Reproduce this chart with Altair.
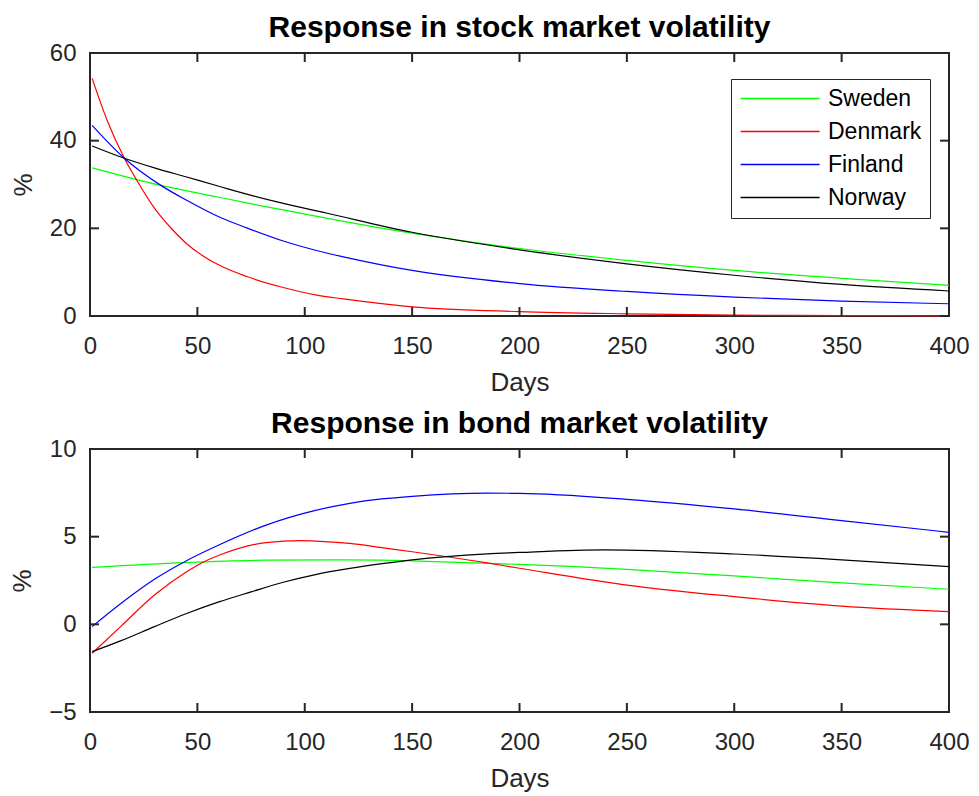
import altair as alt
import pandas as pd

COUNTRIES = ["Sweden", "Denmark", "Finland", "Norway"]
COLORS = ["#00ff00", "#ff0000", "#0000ff", "#000000"]

# ---- Stock market volatility response (%) ----
stock_sweden_days = [1, 33, 59, 73, 90, 118, 150, 200, 250, 300, 350, 400]
stock_sweden_vals = [33.8, 29.8, 27.2, 25.8, 24.2, 21.6, 18.9, 15.4, 12.7, 10.4, 8.6, 7.0]

stock_denmark_days = [1, 8, 16, 22, 30, 38, 45, 53, 61, 73, 90, 105, 118, 150, 200, 250, 300, 350, 400]
stock_denmark_vals = [54.2, 44.6, 36.0, 30.8, 24.6, 19.9, 16.5, 13.6, 11.4, 9.0, 6.5, 4.8, 3.9, 2.1, 1.0, 0.5, 0.2, 0.1, 0.05]

stock_finland_days = [1, 16, 33, 45, 61, 73, 90, 105, 118, 150, 200, 250, 300, 350, 400]
stock_finland_vals = [43.5, 36.0, 29.8, 26.4, 22.4, 20.1, 17.1, 15.0, 13.5, 10.4, 7.4, 5.6, 4.3, 3.4, 2.8]

stock_norway_days = [1, 16, 30, 45, 60, 73, 90, 110, 150, 200, 250, 300, 350, 400]
stock_norway_vals = [38.8, 36.0, 33.8, 31.7, 29.6, 27.8, 25.7, 23.5, 19.1, 15.1, 11.9, 9.3, 7.2, 5.7]

# ---- Bond market volatility response (%) ----
bond_sweden_days = [1, 44, 82, 115, 136, 150, 185, 200, 250, 300, 350, 400]
bond_sweden_vals = [3.25, 3.52, 3.66, 3.68, 3.66, 3.62, 3.48, 3.42, 3.14, 2.76, 2.36, 2.0]

bond_denmark_days = [1, 14.5, 30, 45, 52, 61, 82, 98, 105, 121, 136, 150, 185, 200, 250, 300, 350, 400]
bond_denmark_vals = [-1.65, -0.1, 1.67, 3.0, 3.5, 3.98, 4.66, 4.77, 4.75, 4.62, 4.37, 4.14, 3.5, 3.2, 2.24, 1.58, 1.04, 0.72]

bond_finland_days = [1, 14.5, 30, 44.5, 61, 82, 105, 121, 136, 150, 185, 200, 250, 300, 350, 400]
bond_finland_vals = [-0.13, 1.2, 2.57, 3.6, 4.58, 5.66, 6.5, 6.9, 7.15, 7.3, 7.48, 7.47, 7.13, 6.58, 5.91, 5.25]

bond_norway_days = [1, 14.5, 30, 45, 60, 75, 90, 105, 121, 136, 150, 185, 200, 240, 300, 350, 400]
bond_norway_vals = [-1.56, -0.93, -0.13, 0.62, 1.28, 1.85, 2.4, 2.84, 3.19, 3.46, 3.68, 4.02, 4.1, 4.25, 4.01, 3.68, 3.29]

X_TICKS = [0, 50, 100, 150, 200, 250, 300, 350, 400]
STOCK_Y_TICKS = [0, 20, 40, 60]
BOND_Y_TICKS = [-5, 0, 5, 10]


def long_df(series):
    rows = []
    for name, days, vals in series:
        for d, v in zip(days, vals):
            rows.append({"day": d, "value": v, "country": name})
    return pd.DataFrame(rows)


stock_df = long_df([
    ("Sweden", stock_sweden_days, stock_sweden_vals),
    ("Denmark", stock_denmark_days, stock_denmark_vals),
    ("Finland", stock_finland_days, stock_finland_vals),
    ("Norway", stock_norway_days, stock_norway_vals),
])
bond_df = long_df([
    ("Sweden", bond_sweden_days, bond_sweden_vals),
    ("Denmark", bond_denmark_days, bond_denmark_vals),
    ("Finland", bond_finland_days, bond_finland_vals),
    ("Norway", bond_norway_days, bond_norway_vals),
])

W, H = 859, 263
FONT = "Liberation Sans"
AXC = "#262626"
TICK_LEN = 9


def panel(df, ydomain, yticks, title, show_legend):
    if show_legend:
        legend = alt.Legend(
            title=None, orient="none", legendX=641, legendY=26,
            fillColor="white", strokeColor=AXC, padding=8, rowPadding=9,
            symbolType="M-1,0H7", symbolSize=390, symbolStrokeWidth=1.5, symbolFillColor="transparent",
            labelFont=FONT, labelFontSize=23, labelColor="black", labelOffset=66,
        )
    else:
        legend = None
    xaxis = alt.Axis(values=X_TICKS, title="Days", grid=False, domain=False, ticks=False, tickSize=0,
                     labelFont=FONT, labelFontSize=24, labelColor=AXC, labelPadding=18, labelFlush=False,
                     titleFont=FONT, titleFontSize=26, titleFontWeight="normal", titleColor=AXC,
                     titlePadding=11)
    yaxis = alt.Axis(values=yticks, title="%", grid=False, domain=False, ticks=False, tickSize=0,
                     labelFont=FONT, labelFontSize=24, labelColor=AXC, labelPadding=14, labelFlush=False,
                     titleFont=FONT, titleFontSize=26, titleFontWeight="normal", titleColor=AXC,
                     titlePadding=13)
    xs = alt.Scale(domain=[0, 400], nice=False, zero=False)
    ys = alt.Scale(domain=ydomain, nice=False, zero=False)

    lines = alt.Chart(df).mark_line(strokeWidth=1.2, interpolate="monotone").encode(
        x=alt.X("day:Q", scale=xs, axis=xaxis),
        y=alt.Y("value:Q", scale=ys, axis=yaxis),
        color=alt.Color("country:N", scale=alt.Scale(domain=COUNTRIES, range=COLORS), legend=legend),
    )
    xt = pd.DataFrame({"day": X_TICKS})
    yt = pd.DataFrame({"value": yticks})
    rule = dict(color=AXC, strokeWidth=2)
    xt_bottom = alt.Chart(xt).mark_rule(**rule).encode(
        x=alt.X("day:Q", scale=xs), y=alt.value(H), y2=alt.value(H - TICK_LEN))
    xt_top = alt.Chart(xt).mark_rule(**rule).encode(
        x=alt.X("day:Q", scale=xs), y=alt.value(0), y2=alt.value(TICK_LEN))
    yt_left = alt.Chart(yt).mark_rule(**rule).encode(
        y=alt.Y("value:Q", scale=ys), x=alt.value(0), x2=alt.value(TICK_LEN))
    yt_right = alt.Chart(yt).mark_rule(**rule).encode(
        y=alt.Y("value:Q", scale=ys), x=alt.value(W), x2=alt.value(W - TICK_LEN))

    return alt.layer(lines, xt_bottom, xt_top, yt_left, yt_right).properties(
        width=W, height=H,
        title=alt.TitleParams(title, font=FONT, fontSize=30, fontWeight="bold", color="black",
                              anchor="middle", frame="group", offset=-1.7),
    )


top = panel(stock_df, [0, 60], STOCK_Y_TICKS, "Response in stock market volatility", True)
bottom = panel(bond_df, [-5, 10], BOND_Y_TICKS, "Response in bond market volatility", False)

chart = alt.vconcat(top, bottom, spacing=11).resolve_scale(color="shared").configure_view(
    stroke=AXC, strokeWidth=2
).properties(padding={"left": 0, "top": 3, "right": 0, "bottom": 0}, background="white")

chart.save("out.html", embed_options={"renderer": "svg", "actions": False})
